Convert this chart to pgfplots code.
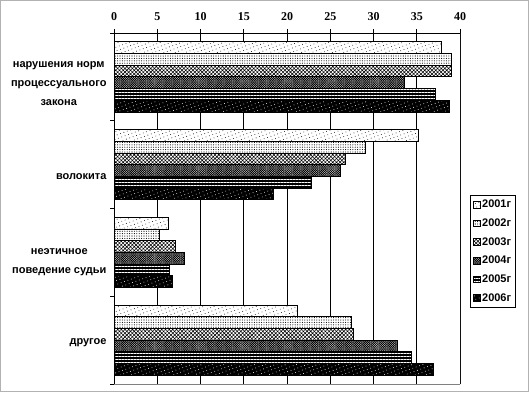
\documentclass[border=0pt]{standalone}
\usepackage{fontspec}
\setmainfont{Liberation Sans}
\newfontfamily\serifbf{Liberation Serif}
\usepackage{pgfplots}
\pgfplotsset{compat=1.18}
\usetikzlibrary{patterns.meta}
\begin{document}
\begin{tikzpicture}
\path[use as bounding box] (0,0) rectangle (529pt,392pt);
\draw[gray!60, line width=1pt] (0.5pt,0.5pt) rectangle (528.5pt,391.5pt);
\begin{axis}[
  at={(114pt,8pt)}, anchor=south west,
  scale only axis, width=346pt, height=351pt,
  xbar=0pt, bar width=0.1333,
  every axis plot/.append style={draw=black, line width=0.8pt,
    legend image code/.code={\draw[##1, line width=0.6pt] (0pt,-3.3pt) rectangle (6.6pt,3.3pt);}},
  xmin=0, xmax=40, ymin=-0.5, ymax=3.5, y dir=reverse,
  axis x line*=top, axis y line*=left,
  axis line style={-, line width=0.8pt, black},
  tick align=outside, major tick length=4pt,
  tick style={black, line width=0.8pt},
  xtick={0,5,...,40}, xmajorgrids, grid style={black, line width=0.8pt},
  /pgf/number format/assume math mode=true,
  xticklabel style={font=\fontsize{12}{13}\serifbf\bfseries, yshift=5pt},
  ytick={-0.5,0.5,1.5,2.5,3.5}, yticklabels={},
  extra y ticks={0.0755,1.1376,2.109,3.029},
  extra y tick labels={{нарушения норм\\процессуального\\закона},{волокита},{неэтичное\\поведение судьи},{другое}},
  extra y tick style={major tick length=0pt, yticklabel style={align=center, font=\fontsize{11}{19}\selectfont\bfseries, xshift=-4pt}},
  legend style={at={(1.029,0.538)}, anchor=north west, draw=black, line width=0.8pt,
    font=\fontsize{11}{12}\selectfont\bfseries, row sep=5.5pt, inner sep=2.5pt,
    legend cell align=left},
]
% 2001
\addplot[fill=white, postaction={pattern color=black, pattern={Dots[distance=3.6pt, radius=0.45pt, angle=20]}}]
  coordinates {(37.9,0) (35.2,1) (6.3,2) (21.2,3)};
% 2002
\addplot[fill=white, postaction={pattern color=black, pattern={Dots[distance=2.4pt, radius=0.55pt]}}]
  coordinates {(39.0,0) (29.1,1) (5.2,2) (27.4,3)};
% 2003
\addplot[fill=white, postaction={pattern color=black, pattern={Hatch[distance=2.6pt, angle=45, line width=0.55pt]}}]
  coordinates {(39.0,0) (26.7,1) (7.1,2) (27.7,3)};
% 2004
\addplot[fill=gray!45, postaction={pattern color=black, pattern={Hatch[distance=1.6pt, angle=45, line width=0.5pt]}}]
  coordinates {(33.6,0) (26.2,1) (8.1,2) (32.8,3)};
% 2005
\addplot[fill=black, postaction={pattern color=white, pattern={Lines[distance=3pt, angle=0, line width=0.7pt]}}]
  coordinates {(37.1,0) (22.8,1) (6.4,2) (34.4,3)};
% 2006
\addplot[fill=black, postaction={pattern color=white, pattern={Dots[distance=3.6pt, radius=0.45pt, angle=20]}}]
  coordinates {(38.8,0) (18.4,1) (6.7,2) (36.9,3)};
\legend{2001г,2002г,2003г,2004г,2005г,2006г}
\draw[gray, line width=0.9pt] (axis cs:40,-0.5) -- (axis cs:40,3.5) -- (axis cs:0,3.5);
\end{axis}
\end{tikzpicture}
\end{document}
